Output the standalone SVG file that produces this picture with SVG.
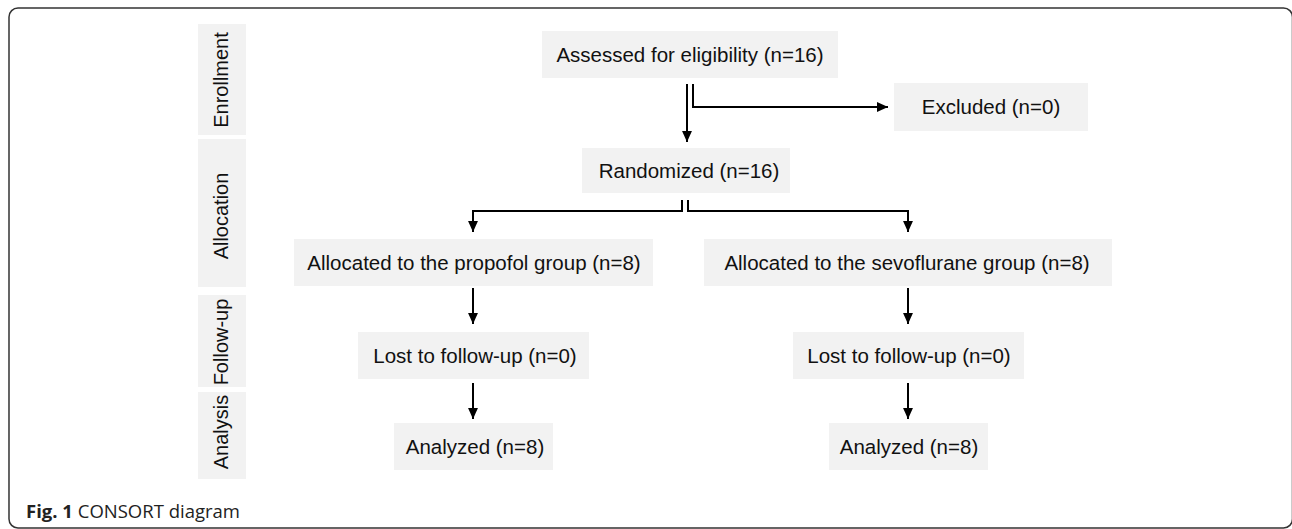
<svg xmlns="http://www.w3.org/2000/svg" width="1292" height="529" viewBox="0 0 1292 529">
<style>
.box{fill:#f2f2f2}
.t{font-family:"Liberation Sans",Arial,sans-serif;font-size:20.5px;fill:#111;text-anchor:middle}
.lbl{font-family:"Liberation Sans",Arial,sans-serif;font-size:20px;fill:#111;text-anchor:middle}
.c{fill:none;stroke:#000;stroke-width:2}
.cap{font-family:"Open Sans","Noto Sans",sans-serif;font-size:18.5px;fill:#222}
</style>
<defs>
<marker id="ah" markerUnits="userSpaceOnUse" markerWidth="11" markerHeight="11" viewBox="0 0 10 10" refX="10" refY="5" orient="auto">
<path d="M0,0.5 L10,5 L0,9.5 z" fill="#000"/>
</marker>
</defs>
<rect x="9" y="8" width="1283.5" height="520" rx="9" fill="none" stroke="#333" stroke-width="1.5"/>
<g id="phase-enrollment"><rect class="box" x="198" y="24" width="48" height="111"/><text class="lbl" transform="translate(228,80) rotate(-90)">Enrollment</text></g>
<g id="phase-allocation"><rect class="box" x="198" y="139" width="48" height="148"/><text class="lbl" transform="translate(228,216) rotate(-90)">Allocation</text></g>
<g id="phase-followup"><rect class="box" x="198" y="295" width="48" height="92"/><text class="lbl" transform="translate(228,342) rotate(-90)">Follow-up</text></g>
<g id="phase-analysis"><rect class="box" x="198" y="392" width="48" height="87"/><text class="lbl" transform="translate(228,432) rotate(-90)">Analysis</text></g>
<g id="assessed"><rect class="box" x="542" y="31" width="296" height="47"/><text class="t" x="690" y="62">Assessed for eligibility (n=16)</text></g>
<g id="excluded"><rect class="box" x="894" y="83" width="194" height="48"/><text class="t" x="991" y="114">Excluded (n=0)</text></g>
<g id="randomized"><rect class="box" x="582" y="148" width="208" height="45"/><text class="t" x="689" y="178">Randomized (n=16)</text></g>
<g id="alloc-propofol"><rect class="box" x="294" y="239" width="359" height="47"/><text class="t" x="474" y="270">Allocated to the propofol group (n=8)</text></g>
<g id="alloc-sevo"><rect class="box" x="704" y="239" width="408" height="47"/><text class="t" x="907" y="270">Allocated to the sevoflurane group (n=8)</text></g>
<g id="lost-propofol"><rect class="box" x="358" y="332" width="231" height="47"/><text class="t" x="475" y="363">Lost to follow-up (n=0)</text></g>
<g id="lost-sevo"><rect class="box" x="793" y="332" width="231" height="47"/><text class="t" x="909" y="363">Lost to follow-up (n=0)</text></g>
<g id="analyzed-propofol"><rect class="box" x="394" y="423" width="159" height="47"/><text class="t" x="475" y="454">Analyzed (n=8)</text></g>
<g id="analyzed-sevo"><rect class="box" x="829" y="423" width="159" height="47"/><text class="t" x="909" y="454">Analyzed (n=8)</text></g>
<g id="connectors">
<path class="c" d="M687 84 V142" marker-end="url(#ah)"/>
<path class="c" d="M693 84 V107 H888" marker-end="url(#ah)"/>
<path class="c" d="M682 200 V211 H473 V232" marker-end="url(#ah)"/>
<path class="c" d="M688 200 V211 H908 V232" marker-end="url(#ah)"/>
<path class="c" d="M473 288 V324" marker-end="url(#ah)"/>
<path class="c" d="M908 288 V324" marker-end="url(#ah)"/>
<path class="c" d="M473 383 V419" marker-end="url(#ah)"/>
<path class="c" d="M908 383 V419" marker-end="url(#ah)"/>
</g>
<text class="cap" x="26" y="518"><tspan font-weight="bold">Fig. 1</tspan> CONSORT diagram</text>
</svg>
